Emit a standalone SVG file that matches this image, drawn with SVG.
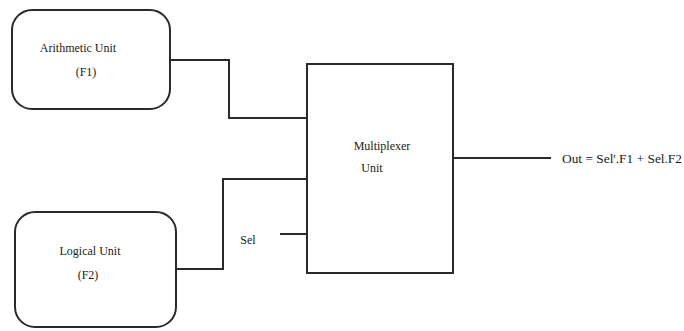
<svg xmlns="http://www.w3.org/2000/svg" width="684" height="331" viewBox="0 0 684 331">
<style>
.box{fill:#fff;stroke:#2a2a2a;stroke-width:2}
.wire{fill:none;stroke:#2a2a2a;stroke-width:2}
text{font-family:"Liberation Serif","Times New Roman",serif;font-size:12px;fill:#1a1a1a;text-anchor:middle}
</style>
<rect width="684" height="331" fill="#fff"/>
<g id="arith">
<rect class="box" x="12" y="10" width="158" height="99" rx="20"/>
<text x="78" y="52">Arithmetic Unit</text>
<text x="86" y="76">(F1)</text>
</g>
<g id="logical">
<rect class="box" x="15" y="212" width="161" height="115" rx="20"/>
<text x="90" y="255">Logical Unit</text>
<text x="88" y="279">(F2)</text>
</g>
<g id="mux">
<rect class="box" x="307" y="64" width="146" height="209"/>
<text x="382" y="150">Multiplexer</text>
<text x="372" y="172">Unit</text>
</g>
<g id="sel">
<text x="248" y="244">Sel</text>
</g>
<g id="out">
<text x="562" y="163" style="text-anchor:start" textLength="120" lengthAdjust="spacingAndGlyphs">Out = Sel'.F1 + Sel.F2</text>
</g>
<g id="connectors">
<polyline class="wire" points="170,60 229,60 229,118 307,118"/>
<polyline class="wire" points="176,269 223,269 223,179 307,179"/>
<line class="wire" x1="280" y1="234" x2="307" y2="234"/>
<line class="wire" x1="453" y1="158" x2="551" y2="158"/>
</g>
</svg>
